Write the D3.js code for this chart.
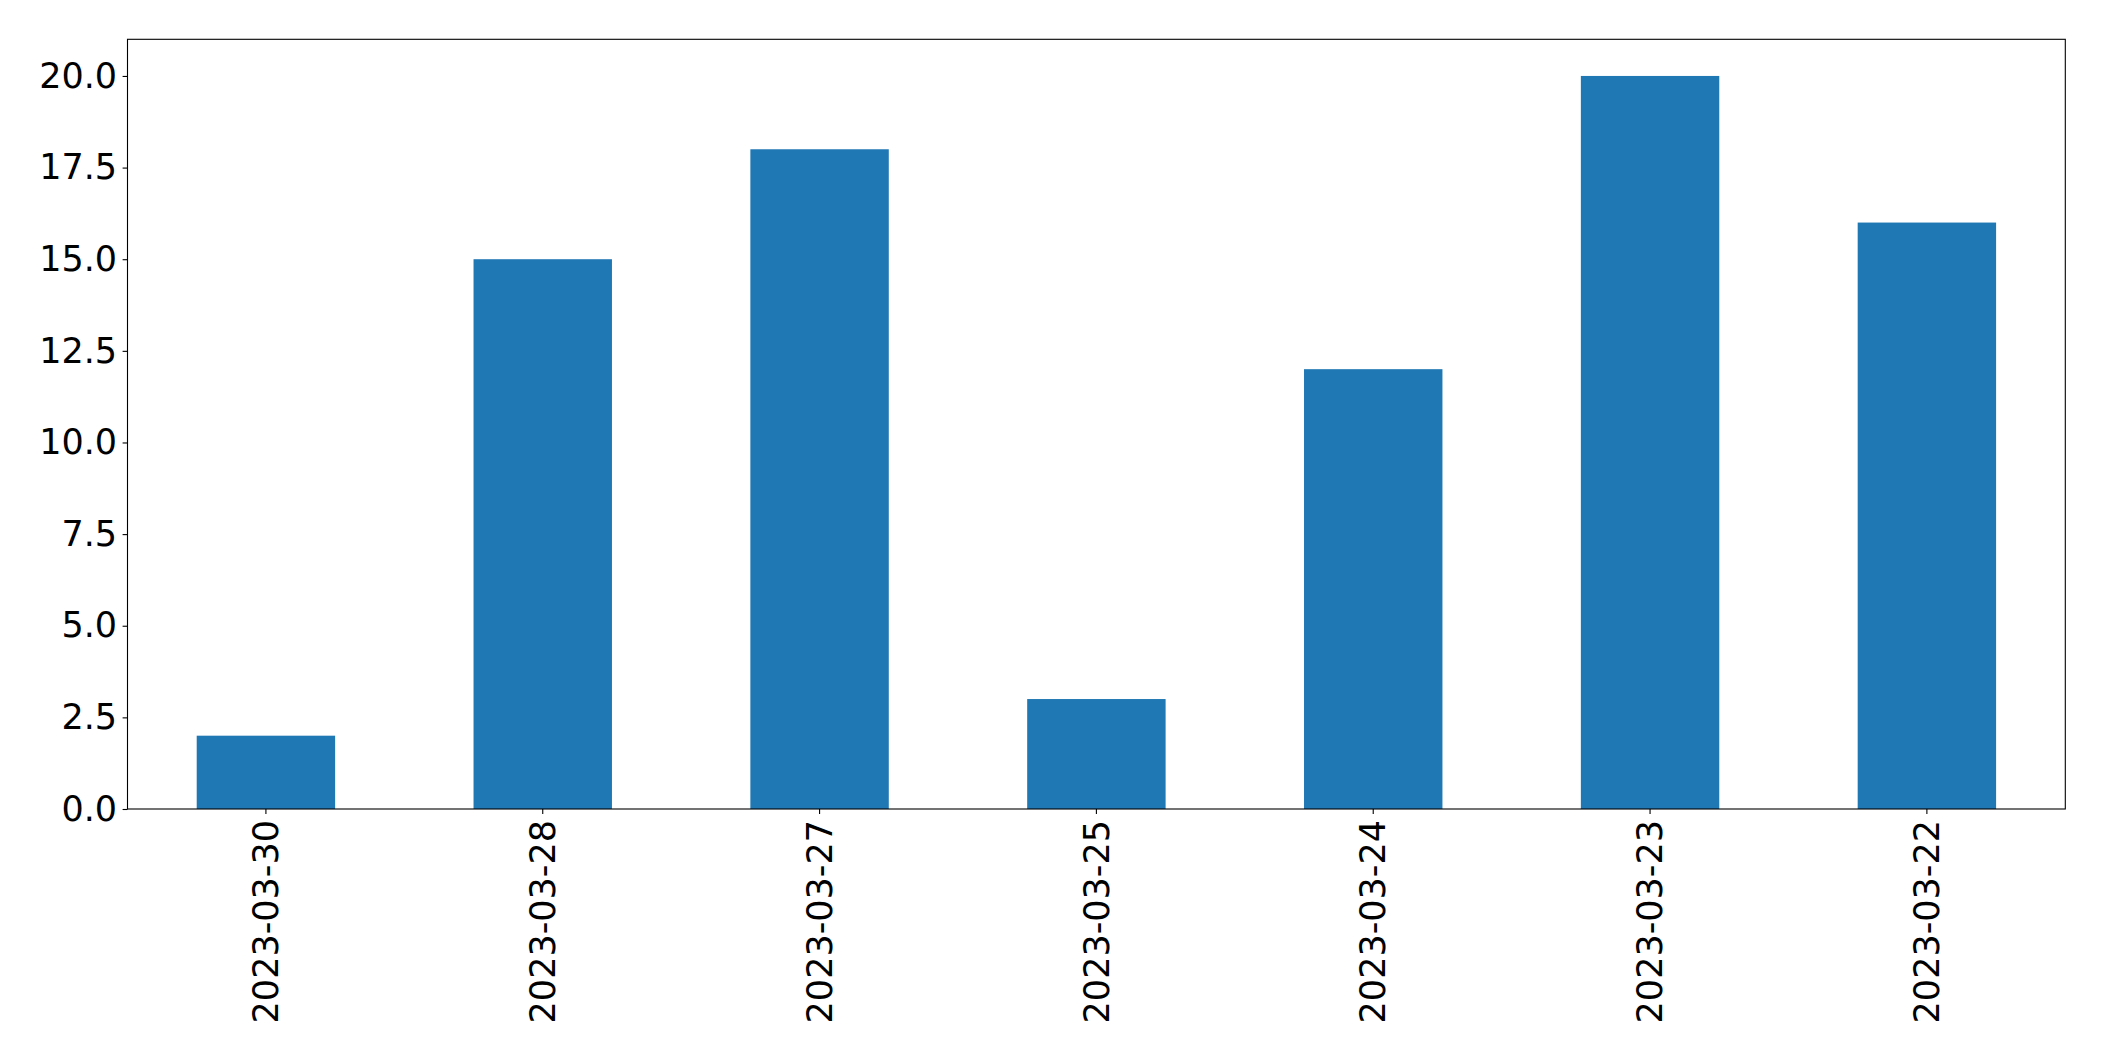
<!DOCTYPE html>
<html><head><meta charset="utf-8">
<script src="https://cdn.jsdelivr.net/npm/d3@7"></script>
<style>html,body{margin:0;padding:0;background:#fff;}</style>
</head><body>
<script>
const categories = ["2023-03-30","2023-03-28","2023-03-27","2023-03-25","2023-03-24","2023-03-23","2023-03-22"];
const values = [2, 15, 18, 3, 12, 20, 16];
const yTicks = [0, 2.5, 5, 7.5, 10, 12.5, 15, 17.5, 20];

const W = 2104, H = 1061;
const m = {left: 127.5, right: 2104 - 2065.3, top: 39.3, bottom: 1061 - 809};
const svg = d3.select("body").append("svg").attr("width", W).attr("height", H)
  .style("font-family", "'DejaVu Sans', sans-serif");

const x = d3.scaleBand().domain(categories).range([m.left, W - m.right]).paddingInner(0.5).paddingOuter(0.25);
const y = d3.scaleLinear().domain([0, 21]).range([H - m.bottom, m.top]);

svg.append("g").selectAll("rect").data(values).join("rect")
  .attr("x", (d, i) => x(categories[i]))
  .attr("width", x.bandwidth())
  .attr("y", d => y(d))
  .attr("height", d => y(0) - y(d))
  .attr("fill", "#1f77b4");

const fs = 35;
const yAxis = svg.append("g").attr("transform", `translate(${m.left},0)`)
  .call(d3.axisLeft(y).tickValues(yTicks).tickFormat(d3.format(".1f")).tickSize(4.9).tickPadding(5.5));
yAxis.select(".domain").remove();
yAxis.selectAll("text").attr("font-size", fs).attr("fill", "#000").attr("font-family", "'DejaVu Sans', sans-serif");
yAxis.selectAll("line").attr("stroke", "#000").attr("stroke-width", 1.1);

const xAxis = svg.append("g").attr("transform", `translate(0,${H - m.bottom})`)
  .call(d3.axisBottom(x).tickSize(4.9).tickPadding(4.9));
xAxis.select(".domain").remove();
xAxis.selectAll("line").attr("stroke", "#000").attr("stroke-width", 1.1);
xAxis.selectAll("text")
  .attr("font-size", fs).attr("fill", "#000").attr("font-family", "'DejaVu Sans', sans-serif")
  .attr("text-anchor", "end")
  .attr("transform", "rotate(-90)")
  .attr("x", -11).attr("y", 0).attr("dy", "0.35em");

svg.append("rect")
  .attr("x", m.left).attr("y", m.top)
  .attr("width", W - m.right - m.left).attr("height", H - m.bottom - m.top)
  .attr("fill", "none").attr("stroke", "#000").attr("stroke-width", 1.1);
</script>
</body></html>
